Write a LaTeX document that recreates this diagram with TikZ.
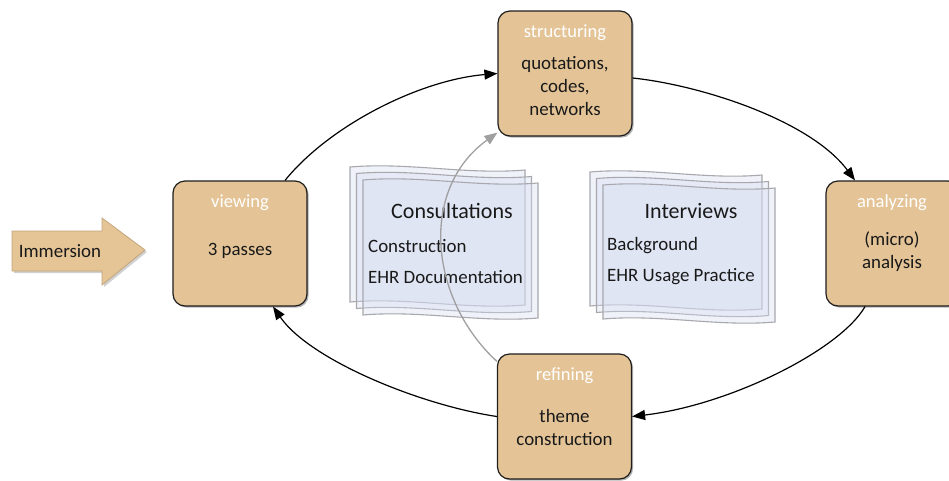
\documentclass[tikz,border=0pt]{standalone}
\usepackage{fontspec}
\setmainfont{Carlito}
\usetikzlibrary{arrows.meta,shadows}
\definecolor{boxfill}{HTML}{E4C497}
\definecolor{boxline}{HTML}{1E1E1E}
\definecolor{arrowfill}{HTML}{E5C596}
\definecolor{arrowline}{HTML}{C2A57C}
\definecolor{pageline}{HTML}{A8A8AE}
\definecolor{pagefill}{HTML}{D6DCF1}
\definecolor{grayflow}{HTML}{A0A0A0}
\newcommand{\docpage}[5]{%
  \pgfmathsetmacro{\pL}{#1}\pgfmathsetmacro{\pT}{#2}%
  \pgfmathsetmacro{\pR}{#1+#3}\pgfmathsetmacro{\pB}{#2+#4}%
  \pgfmathsetmacro{\pa}{#1+#3/3}\pgfmathsetmacro{\pb}{#1+2*#3/3}%
  \filldraw[draw=pageline, line width=1.1pt, fill=pagefill, fill opacity=#5]
    (\pL,\pT) .. controls (\pa,\pT-5) and (\pb,\pT+8) .. (\pR,\pT+3)
    -- (\pR,\pB+3) .. controls (\pb,\pB+8) and (\pa,\pB-5) .. (\pL,\pB) -- cycle;}
\begin{document}
\begin{tikzpicture}[x=1pt,y=-1pt,
  stagebox/.style={draw=boxline, line width=1.2pt, fill=boxfill, rounded corners=12pt,
    minimum width=134pt, minimum height=125pt, inner sep=0pt,
    drop shadow={shadow xshift=1.6pt, shadow yshift=-1.6pt, opacity=0.3, fill=black}},
  titletext/.style={text=white, font=\fontsize{18.5}{22}\selectfont, inner sep=0pt},
  bodytext/.style={text=black!90, font=\fontsize{18.9}{23}\selectfont, align=center, inner sep=0pt},
  dochead/.style={text=black!90, font=\fontsize{22}{26}\selectfont, inner sep=0pt},
  docline/.style={text=black!90, font=\fontsize{18.9}{23}\selectfont, anchor=west, inner sep=0pt},
  flow/.style={draw=black, line width=1.2pt, -{Triangle[length=13pt,width=10pt]}},
  grayarrow/.style={draw=grayflow, line width=1.3pt, -{Triangle[length=13pt,width=10pt]}}]
\useasboundingbox (0,0) rectangle (949,480);
\fill[white] (0,0) rectangle (949,480);

% documents
\docpage{350}{167}{175}{135}{0.35}
\docpage{356.5}{173.5}{175}{135}{0.35}
\docpage{363}{180}{175}{135}{0.35}
\docpage{590}{172}{172}{134}{0.35}
\docpage{596.5}{178.5}{172}{134}{0.35}
\docpage{603}{185}{172}{134}{0.35}

\node[dochead] (consH) at (452,211) {Consultations};
\node[docline] (cons1) at (368,246) {Construction};
\node[docline] (cons2) at (368,277) {EHR Documentation};
\node[dochead] (intH) at (691,211) {Interviews};
\node[docline] (int1) at (607,246) {Background};
\node[docline] (int2) at (607,277) {EHR Usage Practice};

% immersion arrow
\fill[black, opacity=0.18] (14,233) -- (104,233) -- (104,220) -- (147,252) -- (104,287) -- (104,273) -- (14,273) -- cycle;
\filldraw[draw=arrowline, line width=0.8pt, fill=arrowfill]
  (12,231) -- (102,231) -- (102,218) -- (145,250) -- (102,285) -- (102,271) -- (12,271) -- cycle;
\node[bodytext] (imm) at (60,251) {Immersion};

% stage boxes
\node[stagebox] (struct) at (565,73.5) {};
\node[stagebox] (view) at (240,243.5) {};
\node[stagebox] (anal) at (893,243.5) {};
\node[stagebox] (refin) at (564.5,416.5) {};

\node[titletext] (structT) at (565,33) {structuring};
\node[bodytext] (structB) at (565,86) {quotations,\\codes,\\networks};
\node[titletext] (viewT) at (240,203) {viewing};
\node[bodytext] (viewB) at (240,251) {3 passes};
\node[titletext] (analT) at (892,203) {analyzing};
\node[bodytext] (analB) at (892,251.5) {(micro)\\analysis};
\node[titletext] (refinT) at (564.5,376) {refining};
\node[bodytext] (refinB) at (564.5,427) {theme\\construction};

% cycle connectors
\draw[flow] ([xshift=45pt]view.north) .. controls (330,125) and (420,80) .. (struct.west);
\draw[flow] ([yshift=-4.5pt]struct.east) .. controls (700,85) and (810,120) .. ([xshift=-38pt]anal.north);
\draw[flow] ([xshift=-28pt]anal.south) .. controls (840,350) and (730,405) .. (refin.east);
\draw[flow] (refin.west) .. controls (420,405) and (310,360) .. ([xshift=33pt]view.south);
\draw[grayarrow] ([yshift=-8pt]refin.north west) .. controls (430,300) and (418,190) .. ([yshift=4pt]struct.south west);
\end{tikzpicture}
\end{document}
